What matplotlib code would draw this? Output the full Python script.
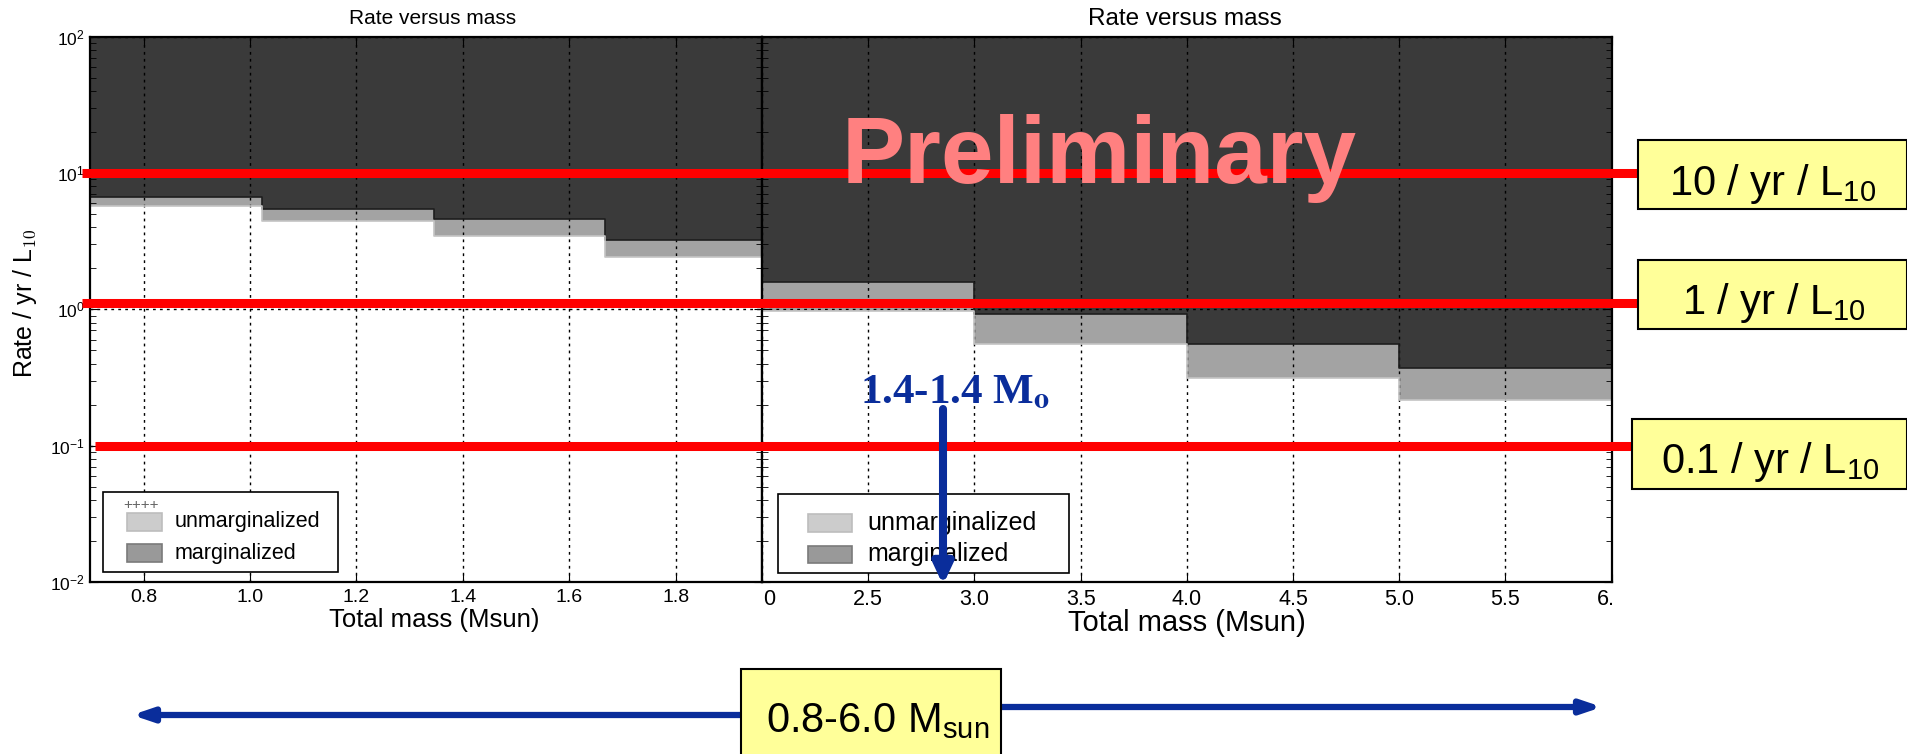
import matplotlib
matplotlib.use("Agg")
import numpy as np
import matplotlib.pyplot as plt
from matplotlib import transforms as mtr
from matplotlib.lines import Line2D
from matplotlib.patches import Rectangle, FancyArrowPatch

plt.rcParams['font.family'] = ['Liberation Sans', 'DejaVu Sans']
plt.rcParams['mathtext.fontset'] = 'custom'
plt.rcParams['mathtext.rm'] = 'Liberation Sans'
plt.rcParams['mathtext.it'] = 'Liberation Sans:italic'
plt.rcParams['mathtext.bf'] = 'Liberation Sans:bold'

# --- data -------------------------------------------------------------
# low-mass panel
mass_edges_lo = [0.7, 1.0225, 1.345, 1.6675, 1.99]
rate_upper_lo = [6.7, 5.45, 4.6, 3.24]
rate_lower_lo = [5.73, 4.47, 3.47, 2.43]
xticks_lo = [0.8, 1.0, 1.2, 1.4, 1.6, 1.8]

# high-mass panel
mass_edges_hi = [2.0, 3.0, 4.0, 5.0, 6.0]
rate_upper_hi = [1.594, 0.925, 0.553, 0.369]
rate_lower_hi = [0.98, 0.553, 0.312, 0.216]
xticks_hi = [2.0, 2.5, 3.0, 3.5, 4.0, 4.5, 5.0, 5.5, 6.0]

# reference rate lines
ref_rates = [10, 1.12, 0.1]
ref_labels = ["10 / yr / L$_{10}$", "1 / yr / L$_{10}$", "0.1 / yr / L$_{10}$"]

key_labels = ["unmarginalized", "marginalized"]
key_colors = ["#cccccc", "#999999"]
key_edges = ["#bdbdbd", "#7a7a7a"]

DARK = "#3a3a3a"
BAND = "#a3a3a3"
RED = "#ff0000"
BLUE = "#0a2d9b"
YELLOW = "#ffff99"

W, H = 1908, 754


def fx(x):
    return x / W


def fy(y):
    return 1 - y / H


fig = plt.figure(figsize=(W / 100, H / 100), dpi=100)

ax1 = fig.add_axes([fx(90.4), fy(582), (762 - 90.4) / W, (582 - 36.7) / H])
ax2 = fig.add_axes([fx(762), fy(582), (1611.7 - 762) / W, (582 - 36.7) / H])


def panel(ax, edges, upper, lower):
    e = np.asarray(edges)
    up = np.append(upper, upper[-1])
    lo = np.append(lower, lower[-1])
    ax.set_yscale('log')
    ax.fill_between(e, up, 100, step='post', color=DARK, lw=0)
    ax.fill_between(e, lo, up, step='post', color=BAND, lw=0)
    ax.step(e, up, where='post', color='#1e1e1e', lw=1.2)
    ax.step(e, lo, where='post', color='#c4c4c4', lw=1.2)
    ax.set_ylim(1e-2, 1e2)
    ax.grid(True, which='major', color='k', ls=(0, (2, 3)), lw=1)
    ax.tick_params(which='both', direction='in', top=True, right=True)
    ax.tick_params(which='major', length=6)
    ax.tick_params(which='minor', length=4)
    for s in ax.spines.values():
        s.set_linewidth(1.6)


panel(ax1, mass_edges_lo, rate_upper_lo, rate_lower_lo)
ax1.set_xlim(0.7, 1.9624)
ax1.set_xticks(xticks_lo)
ax1.set_xticklabels(["%.1f" % t for t in xticks_lo])
ax1.tick_params(axis='x', labelsize=14, pad=5)
ax1.tick_params(axis='y', labelsize=12.5, pad=4)
ax1.set_title("Rate versus mass", fontsize=15, x=0.51, pad=9)
ax1.set_xlabel("Total mass (Msun)", fontsize=18.5)
ax1.xaxis.set_label_coords(0.512, -0.048)
ax1.set_ylabel("Rate / yr / L$_{\\mathrm{10}}$", fontsize=18, math_fontfamily='cm')
ax1.yaxis.set_label_coords(-0.077, 0.511)

panel(ax2, mass_edges_hi, rate_upper_hi, rate_lower_hi)
ax2.set_zorder(1)
ax2.set_xlim(2.0, 6.0)
ax2.set_xticks(xticks_hi)
ax2.set_xticklabels(["%.1f" % t for t in xticks_hi])
ax2.tick_params(axis='x', labelsize=15.5, pad=5)
ax2.tick_params(axis='y', labelleft=False)
ax2.set_title("Rate versus mass", fontsize=17.5, x=0.498, pad=8.5)
ax2.set_xlabel("Total mass (Msun)", fontsize=21)
ax2.xaxis.set_label_coords(0.5, -0.05)
clip = mtr.Bbox.from_extents(764, 0, 1612, H)
for lab in ax2.get_xticklabels():
    lab.set_clip_on(True)
    lab.set_clip_box(clip)


def draw_key(box, swatch_x, rows, text_x, size):
    x0, y0, x1, y1 = box
    fig.add_artist(Rectangle((fx(x0), fy(y1)), (x1 - x0) / W, (y1 - y0) / H,
                             transform=fig.transFigure, fc='white', ec='k',
                             lw=1.2, zorder=3))
    for (ya, yb), lab, fc, ec in zip(rows, key_labels, key_colors, key_edges):
        fig.add_artist(Rectangle((fx(swatch_x[0]), fy(yb)),
                                 (swatch_x[1] - swatch_x[0]) / W, (yb - ya) / H,
                                 transform=fig.transFigure, fc=fc, ec=ec,
                                 lw=1.2, zorder=4))
        fig.text(fx(text_x), fy((ya + yb) / 2), lab, fontsize=size,
                 va='center', ha='left', zorder=4)


draw_key((103, 492, 338, 572), (127, 162), [(513, 531), (544, 562)], 175, 15.5)
fig.text(fx(123), fy(505), "++++", fontsize=11, color='#666666', va='center', zorder=4)
draw_key((778, 494, 1069, 573), (808, 852), [(514, 532), (546, 563)], 867, 18)

# reference rate lines across both panels
blend = mtr.blended_transform_factory(fig.transFigure, ax1.transData)
line_x = [(82, 1638), (82, 1638), (94.5, 1632)]
for r, (xa, xb) in zip(ref_rates, line_x):
    fig.add_artist(Line2D([fx(xa), fx(xb)], [r, r], transform=blend,
                          color=RED, lw=6.5, solid_capstyle='butt', zorder=5))

fig.text(fx(842), fy(183.3), "Preliminary", fontsize=68, fontweight='bold',
         color='#ff8080', ha='left', va='baseline', zorder=6)

# label boxes on the right
boxes = [(1638, 140, 1907, 209), (1638, 260, 1907, 329), (1632.5, 419, 1907, 489)]
baselines = [195, 314, 473.3]
centres = [1773, 1773.6, 1770]
for (x0, y0, x1, y1), lab, yb, xc in zip(boxes, ref_labels, baselines, centres):
    fig.add_artist(Rectangle((fx(x0), fy(y1)), (x1 - x0) / W, (y1 - y0) / H,
                             transform=fig.transFigure, fc=YELLOW, ec='k',
                             lw=1.5, zorder=6))
    fig.text(fx(xc), fy(yb), lab, fontsize=30, ha='center', va='baseline', zorder=7)

# mass range box and arrows
fig.add_artist(Rectangle((fx(741), fy(780)), (1001 - 741) / W, (780 - 669) / H,
                         transform=fig.transFigure, fc=YELLOW, ec='k',
                         lw=1.5, zorder=6))
fig.text(fx(766), fy(731.7), "0.8-6.0 M$_{\\mathrm{sun}}$", fontsize=30,
         ha='left', va='baseline', zorder=7)

for (xa, ya), (xb, yb) in [((741, 715), (132, 715)), ((1001, 707), (1602, 707))]:
    fig.add_artist(FancyArrowPatch((fx(xa), fy(ya)), (fx(xb), fy(yb)),
                                   transform=fig.transFigure,
                                   arrowstyle='-|>,head_length=0.65,head_width=0.22',
                                   mutation_scale=18, lw=4.5, color=BLUE,
                                   shrinkA=0, shrinkB=0, zorder=5))

fig.add_artist(FancyArrowPatch((fx(943), fy(409)), (fx(943), fy(585)),
                               transform=fig.transFigure,
                               arrowstyle='-|>,head_length=0.75,head_width=0.35',
                               mutation_scale=16, lw=5.8, color=BLUE,
                               shrinkA=0, shrinkB=0, zorder=5))
fig.text(fx(860), fy(403), "1.4-1.4 M$_\\mathbf{o}$", family='Liberation Serif',
         fontweight='bold', fontsize=31, color=BLUE, ha='left', va='baseline',
         math_fontfamily='stix', zorder=7)

fig.savefig("out.png", dpi=100)
